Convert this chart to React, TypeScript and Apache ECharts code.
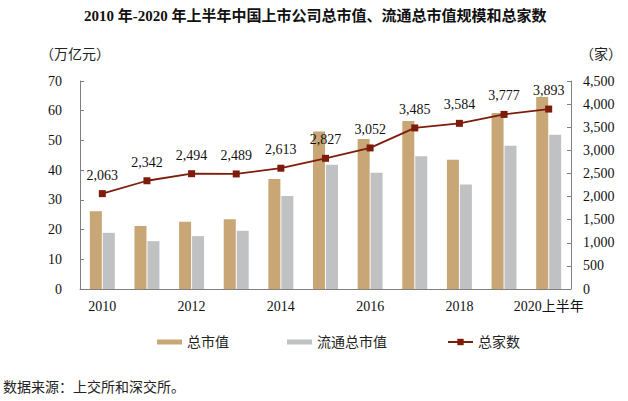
import React, { useEffect, useRef } from "react";
import * as echarts from "echarts";

const categories = ["2010", "2011", "2012", "2013", "2014", "2015", "2016", "2017", "2018", "2019", "2020上半年"];
const totalMarketValue = [26.2, 21.2, 22.6, 23.5, 37.0, 53.0, 50.5, 56.5, 43.5, 59.2, 64.6];
const floatMarketValue = [18.9, 16.1, 17.8, 19.6, 31.3, 41.8, 39.1, 44.7, 35.2, 48.2, 51.9];
const companyCount = [2063, 2342, 2494, 2489, 2613, 2827, 3052, 3485, 3584, 3777, 3893];

const FONT = "'Liberation Serif', 'Times New Roman', 'Noto Sans CJK SC', serif";
const TAN = "#C8A676";
const GRAY = "#C0C1C3";
const RED = "#7E1C0C";

export default function App() {
  const ref = useRef<HTMLDivElement>(null);
  useEffect(() => {
    if (!ref.current) return;
    const chart = echarts.init(ref.current, null, { renderer: "svg" });
    const fmt = (v: number) => v.toLocaleString("en-US");
    chart.setOption({
      animation: false,
      backgroundColor: "#fff",
      textStyle: { fontFamily: FONT },
      title: {
        text: "2010 年-2020 年上半年中国上市公司总市值、流通总市值规模和总家数",
        left: 79,
        top: 3,
        textStyle: { fontFamily: FONT, fontSize: 15, fontWeight: "bold", color: "#111" },
      },
      grid: { left: 80, right: 57, top: 81, bottom: 112, containLabel: false },
      legend: [
        {
          data: ["总市值", "流通总市值"],
          left: 152,
          top: 330,
          itemWidth: 25,
          itemHeight: 5,
          itemGap: 58,
          icon: "rect",
          textStyle: { fontFamily: FONT, fontSize: 14, color: "#222" },
        },
        {
          data: ["总家数"],
          left: 442,
          top: 330,
          itemWidth: 25,
          itemHeight: 8,
          textStyle: { fontFamily: FONT, fontSize: 14, color: "#222" },
        },
      ],
      xAxis: {
        type: "category",
        data: categories,
        axisLine: { lineStyle: { color: "#808080", width: 1 } },
        axisTick: { inside: true, length: 4, interval: 1, lineStyle: { color: "#808080" } },
        axisLabel: { interval: 1, fontFamily: FONT, fontSize: 14, color: "#111", margin: 10 },
      },
      yAxis: [
        {
          type: "value",
          min: 0,
          max: 70,
          interval: 10,
          axisLine: { show: true, lineStyle: { color: "#808080" } },
          axisTick: { show: true, inside: true, length: 4, lineStyle: { color: "#808080" } },
          splitLine: { show: false },
          axisLabel: { fontFamily: FONT, fontSize: 14, color: "#111", margin: 18 },
        },
        {
          type: "value",
          min: 0,
          max: 4500,
          interval: 500,
          axisLine: { show: true, lineStyle: { color: "#808080" } },
          axisTick: { show: true, inside: true, length: 4, lineStyle: { color: "#808080" } },
          splitLine: { show: false },
          axisLabel: { fontFamily: FONT, fontSize: 14, color: "#111", margin: 12, formatter: (v: number) => fmt(v) },
        },
      ],
      series: [
        {
          name: "总市值",
          type: "bar",
          data: totalMarketValue,
          barWidth: 12,
          barGap: "8%",
          itemStyle: { color: TAN },
        },
        {
          name: "流通总市值",
          type: "bar",
          data: floatMarketValue,
          barWidth: 12,
          barGap: "8%",
          itemStyle: { color: GRAY },
        },
        {
          name: "总家数",
          type: "line",
          yAxisIndex: 1,
          data: companyCount,
          symbol: "rect",
          symbolSize: 7,
          lineStyle: { color: RED, width: 1.8 },
          itemStyle: { color: RED },
          label: {
            show: true,
            position: "top",
            distance: 8,
            fontFamily: FONT,
            fontSize: 14,
            color: "#111",
            formatter: (p: any) => fmt(p.value),
          },
          z: 5,
        },
      ],
      graphic: [
        {
          type: "text",
          left: 40,
          top: 47,
          style: { text: "（万亿元）", font: `14px ${FONT}`, fill: "#222" },
        },
        {
          type: "text",
          right: 6,
          top: 47,
          style: { text: "（家）", font: `14px ${FONT}`, fill: "#222" },
        },
        {
          type: "text",
          left: 3,
          top: 380,
          style: { text: "数据来源：上交所和深交所。", font: `14px ${FONT}`, fill: "#222" },
        },
      ],
    });
    return () => chart.dispose();
  }, []);
  return <div ref={ref} style={{ width: 628, height: 401, position: "absolute", left: 0, top: 0 }} />;
}
